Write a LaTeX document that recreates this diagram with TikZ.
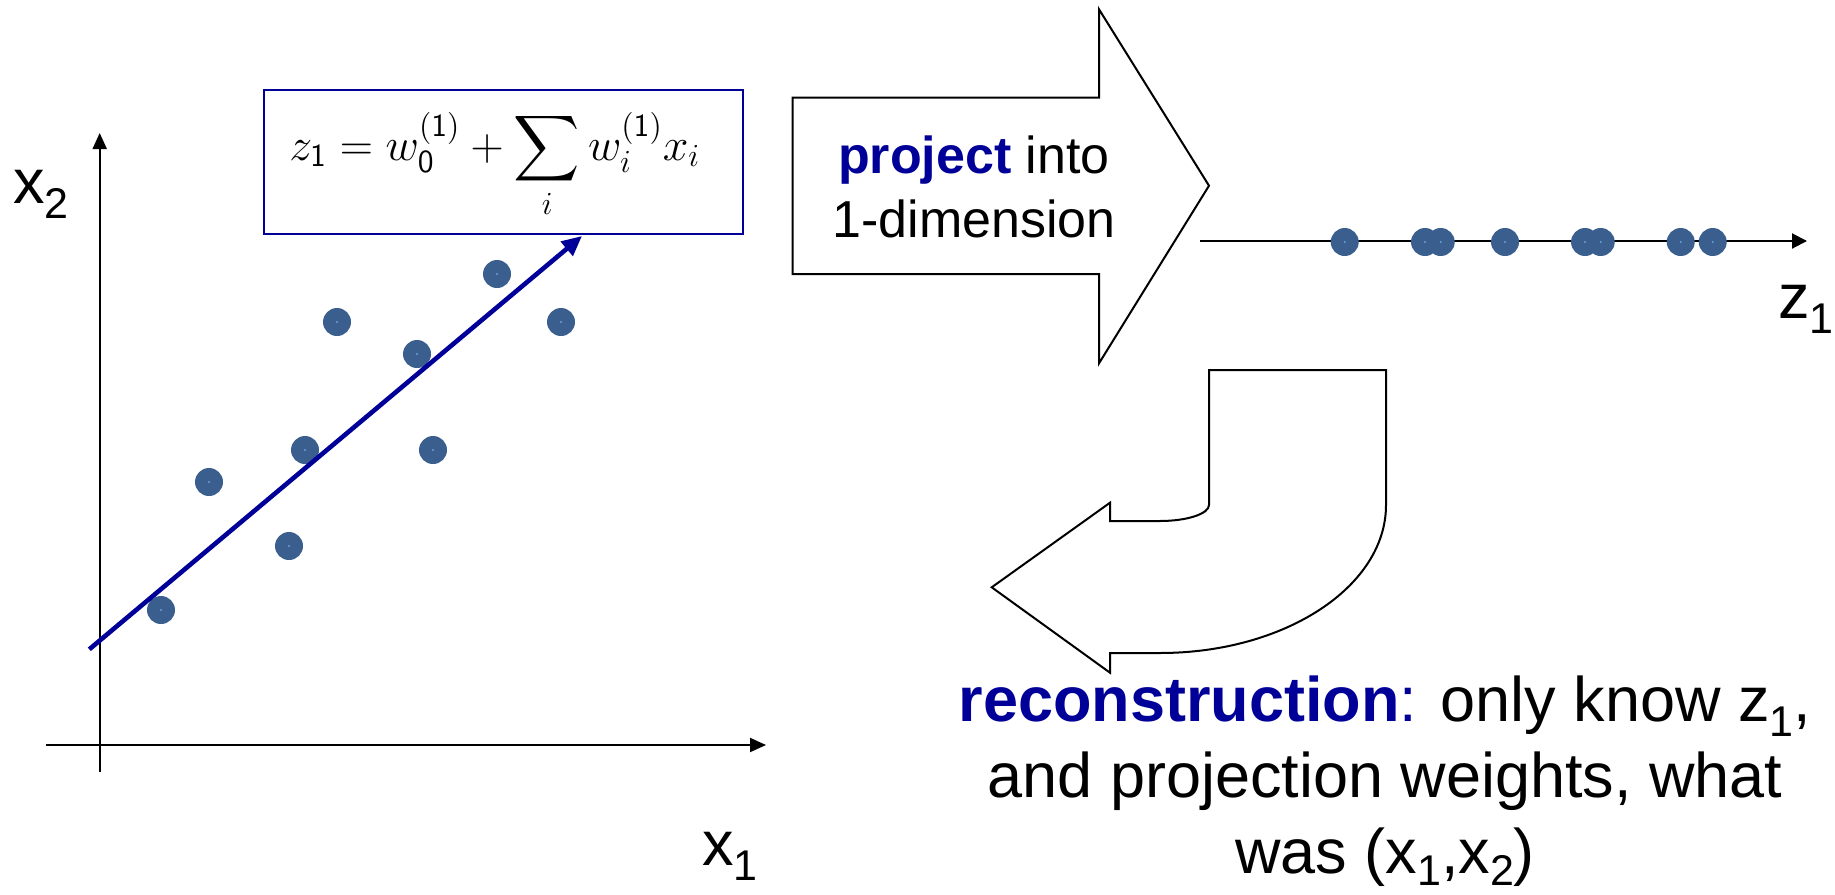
\RequirePackage{fix-cm}
\documentclass[tikz,border=0pt]{standalone}
\usepackage{exscale}
\usepackage[no-math]{fontspec}
\setmainfont{Liberation Sans}
\usetikzlibrary{arrows.meta}
\DeclareFontShape{OMX}{cmex}{m}{n}{<->cmex10}{}
\definecolor{navy}{RGB}{0,0,153}
\definecolor{dotblue}{RGB}{58,95,142}
\definecolor{dotcore}{RGB}{110,155,215}
\newcommand{\lsb}[1]{\raisebox{-7.5pt}[0pt][0pt]{\fontsize{21.5}{21.5}\selectfont #1}}
\newcommand{\ssb}[1]{\raisebox{-6pt}[0pt][0pt]{\fontsize{21.5}{21.5}\selectfont #1}}
\tikzset{
  dot/.style={circle,fill=dotblue,minimum size=14pt,inner sep=0pt,
    path picture={\fill[dotcore] (path picture bounding box.center) circle (0.6pt);}},
  axisline/.style={line width=1pt,-{Triangle[length=8pt,width=7pt]}},
  shapeline/.style={line width=1pt,fill=white,line join=miter},
  biglabel/.style={font=\fontsize{31.5}{38}\selectfont,inner sep=0pt},
  projtext/.style={font=\fontsize{26}{32}\selectfont,inner sep=0pt,anchor=base},
  recontext/.style={font=\fontsize{31.5}{38}\selectfont,inner sep=0pt,anchor=base},
}
\begin{document}
\begin{tikzpicture}[x=0.5pt,y=-0.5pt]
\useasboundingbox[fill=white] (0,0) rectangle (1835,894);

% ---- left plot axes ----
\coordinate (yb) at (99.7,771.7);
\coordinate (yt) at (99.7,133);
\coordinate (xl) at (46,745);
\coordinate (xr) at (766,745);
\draw[axisline] (yb) -- (yt);
\draw[axisline] (xl) -- (xr);
\node[biglabel,anchor=base west] (lx2) at (13,203) {x\lsb{2}};
\node[biglabel,anchor=base west] (lx1) at (701.7,865) {x\lsb{1}};

% ---- formula box ----
\node[draw=navy,line width=1pt,minimum width=239.5pt,minimum height=72pt,inner sep=0pt] (fbox) at (503.5,162) {};
\node[inner sep=0pt,anchor=base,font=\fontsize{23}{28}\selectfont] (formula) at (494.7,160)
  {$\displaystyle z_{\mathsf{1}} = w_{\mathsf{0}}^{(\mathsf{1})} + \sum_i w_i^{(\mathsf{1})} x_i$};

% ---- scatter points ----
\node[dot] (d1) at (161,610) {};
\node[dot] (d2) at (209,482) {};
\node[dot] (d3) at (289,546) {};
\node[dot] (d4) at (305,450) {};
\node[dot] (d5) at (337,322) {};
\node[dot] (d6) at (417,354) {};
\node[dot] (d7) at (433,450) {};
\node[dot] (d8) at (497,274) {};
\node[dot] (d9) at (561,322) {};

% ---- projection direction ----
\coordinate (ls) at (89.3,649.3);
\coordinate (le) at (582,236);
\draw[navy,line width=2.3pt,-{Triangle[length=10pt,width=9pt]}] (ls) -- (le);

% ---- project arrow ----
\draw[shapeline] (792.7,97.7) -- (1099,97.7) -- (1099,9.3) -- (1209,185.7)
  -- (1099,363.3) -- (1099,274) -- (792.7,274) -- cycle;
\node[projtext] (pt1) at (974,173) {\textbf{\color{navy}project} into};
\node[projtext] (pt2) at (974,237) {1-dimension};

% ---- z1 axis ----
\coordinate (zl) at (1200,241);
\coordinate (zr) at (1807,241);
\draw[line width=1pt,-{Triangle[length=7.5pt,width=7.5pt]}] (zl) -- (zr);
\node[dot] (e1) at (1344.7,242) {};
\node[dot] (e2) at (1425,242) {};
\node[dot] (e3) at (1440.7,242) {};
\node[dot] (e4) at (1505,242) {};
\node[dot] (e5) at (1585,242) {};
\node[dot] (e6) at (1600.7,242) {};
\node[dot] (e7) at (1680.7,242) {};
\node[dot] (e8) at (1712.7,242) {};
\node[biglabel,anchor=base west] (lz1) at (1778,318) {z\lsb{1}};

% ---- reconstruction (bent) arrow ----
\draw[shapeline] (1209,370) -- (1386,370) -- (1386,505)
  .. controls (1386,586.7) and (1284.8,653) .. (1160,653)
  -- (1110,653) -- (1110,672.7) -- (991.7,587.3) -- (1110,502.7) -- (1110,521)
  -- (1160,521)
  .. controls (1187,521) and (1209,513.8) .. (1209,505)
  -- cycle;

% ---- reconstruction text ----
\node[recontext] (r1) at (1385,721) {\textcolor{navy}{\textbf{reconstruction}:} only know z\lsb{1},};
\node[recontext] (r2) at (1385,797.5) {and projection weights, what};
\node[recontext] (r3) at (1385,873.5) {was (x\ssb{1},x\ssb{2})};
\end{tikzpicture}
\end{document}
